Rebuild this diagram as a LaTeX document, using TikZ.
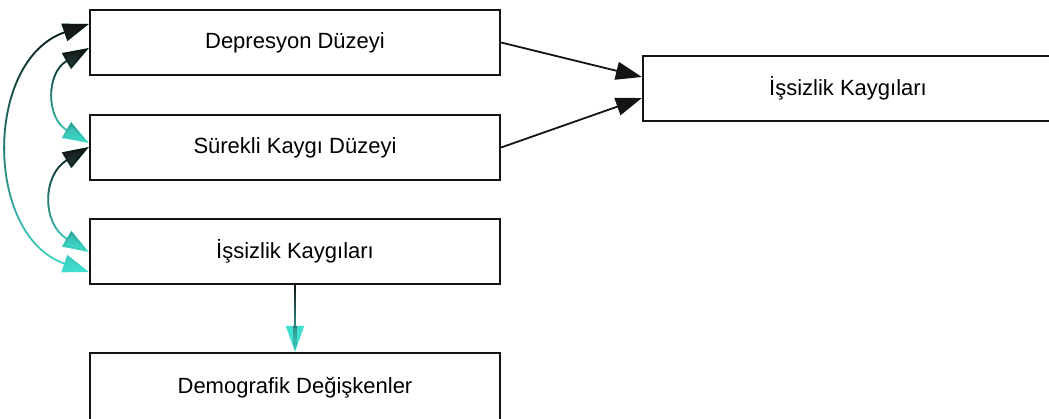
\documentclass[tikz,border=0pt]{standalone}
\usepackage{fontspec}
\setmainfont{Liberation Sans}
\usetikzlibrary{arrows.meta,fadings}
\definecolor{turk}{RGB}{64,224,208}
\definecolor{koyu}{RGB}{20,20,20}
\tikzset{>={Triangle[length=13pt,width=9pt]}}
\tikzset{kutu/.style={draw=koyu,line width=1.1pt,minimum width=205pt,minimum height=32.5pt,inner sep=0pt,font=\fontsize{11}{13}\selectfont}}
\tikzset{bag/.style={line width=0.9pt}}
\begin{document}
\begin{tikzpicture}[x=0.5pt,y=-0.5pt]
		\clip (0,0) rectangle (1049,418);
		\useasboundingbox (0,0) rectangle (1049,418);
		\node[kutu] (dep) at (295,42.5) {Depresyon Düzeyi};
		\node[kutu] (sur) at (295,147.5) {Sürekli Kaygı Düzeyi};
		\node[kutu] (iss) at (295,251.5) {İşsizlik Kaygıları};
		\node[kutu,minimum height=35pt] (dem) at (295,388) {Demografik Değişkenler};
		\node[kutu] (sag) at (848,88.5) {İşsizlik Kaygıları};
		\draw[bag,->,koyu] (dep.east) -- ([yshift=5.75pt]sag.west);
		\draw[bag,->,koyu] (sur.east) -- ([yshift=-4.75pt]sag.west);
		% egri oklar: ustte koyu, altta turkuaz
		\draw[bag,<->,turk] ([yshift=9.25pt]dep.west) .. controls +(-105,36) and +(-105,-36) .. ([yshift=-10.25pt]iss.west);
		\draw[bag,<->,koyu,path fading=south] ([yshift=9.25pt]dep.west) .. controls +(-105,36) and +(-105,-36) .. ([yshift=-10.25pt]iss.west);
		\draw[bag,<->,turk] ([yshift=-2.75pt]dep.west) .. controls +(-43,25) and +(-43,-25) .. ([yshift=2.25pt]sur.west);
		\draw[bag,<->,koyu,path fading=south] ([yshift=-2.75pt]dep.west) .. controls +(-43,25) and +(-43,-25) .. ([yshift=2.25pt]sur.west);
		\draw[bag,<->,turk] ([yshift=0.25pt]sur.west) .. controls +(-47,28) and +(-47,-28) .. ([yshift=-0.25pt]iss.west);
		\draw[bag,<->,koyu,path fading=south] ([yshift=0.25pt]sur.west) .. controls +(-47,28) and +(-47,-28) .. ([yshift=-0.25pt]iss.west);
		\draw[bag,->,turk] (iss.south) -- (dem.north);
		\draw[bag,->,koyu,path fading=south] (iss.south) -- (dem.north);
	\end{tikzpicture}
\end{document}
